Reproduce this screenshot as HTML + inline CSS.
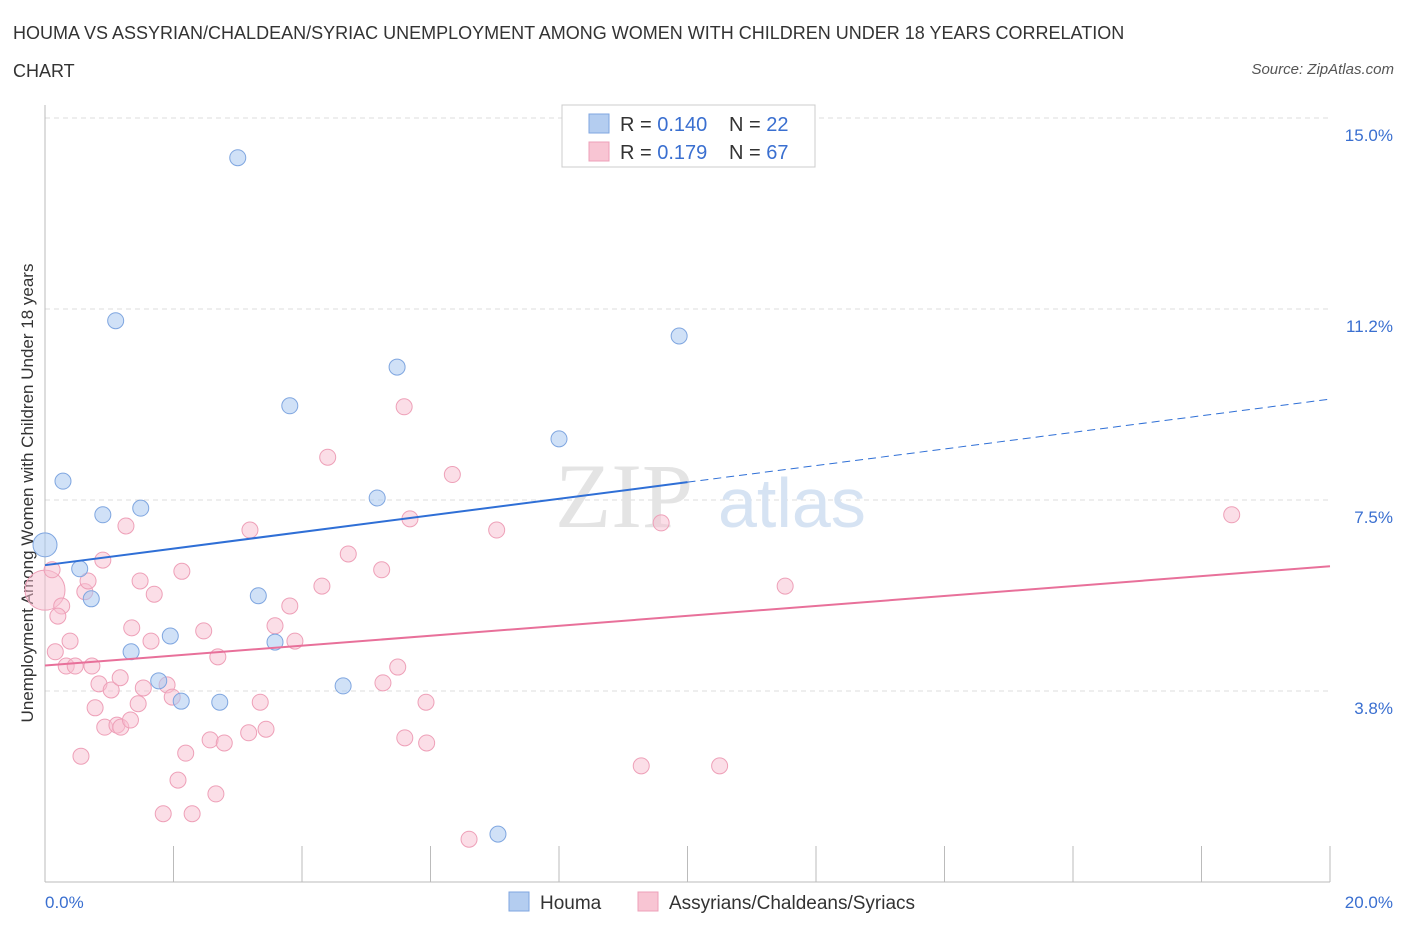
<!DOCTYPE html>
<html><head><meta charset="utf-8"><style>
body{margin:0;background:#fff;font-family:"Liberation Sans",sans-serif;}
#wrap{position:relative;width:1406px;height:930px;overflow:hidden;}
.t{position:absolute;white-space:nowrap;}
</style></head><body>
<div id="wrap">
<div class="t" style="left:13px;top:14px;font-size:18px;color:#333;line-height:38px;">HOUMA VS ASSYRIAN/CHALDEAN/SYRIAC UNEMPLOYMENT AMONG WOMEN WITH CHILDREN UNDER 18 YEARS CORRELATION<br>CHART</div>
<div class="t" style="right:12px;top:61px;font-size:15px;color:#555;font-style:italic;">Source: ZipAtlas.com</div>
<svg id="svg" width="1406" height="930" style="position:absolute;left:0;top:0"></svg>
</div>
<script>
const houmaX=[0,0.28,1.10,0.90,1.49,0.54,0.72,1.34,1.95,1.77,2.12,2.72,3.00,3.81,3.32,3.58,4.64,5.17,5.48,7.05,8.00,9.87];
const houmaY=[6.62,7.87,11.02,7.21,7.34,6.15,5.56,4.52,4.83,3.95,3.55,3.53,14.22,9.35,5.62,4.71,3.85,7.54,10.11,0.94,8.70,10.72];
const assyX=[0,0.11,0.16,0.26,0.20,0.39,0.33,0.47,0.56,0.62,0.67,0.73,0.78,0.84,0.90,0.93,1.03,1.12,1.17,1.18,1.26,1.33,1.35,1.45,1.48,1.53,1.65,1.70,1.84,1.90,1.98,2.07,2.13,2.19,2.29,2.47,2.57,2.66,2.69,2.79,3.19,3.17,3.35,3.44,3.58,3.81,3.89,4.31,4.40,4.72,5.24,5.26,5.49,5.59,5.68,5.60,5.93,5.94,6.34,6.60,7.03,9.28,9.59,10.50,11.52,18.47];
const assyY=[5.73,6.13,4.52,5.42,5.22,4.73,4.24,4.24,2.47,5.70,5.91,4.24,3.42,3.89,6.32,3.04,3.77,3.08,4.01,3.04,6.99,3.18,4.99,3.50,5.91,3.81,4.73,5.65,1.34,3.87,3.63,2.00,6.10,2.53,1.34,4.93,2.79,1.73,4.42,2.73,6.91,2.93,3.53,3.00,5.03,5.42,4.73,5.81,8.34,6.44,6.13,3.91,4.22,9.33,7.13,2.83,3.53,2.73,8.00,0.84,6.91,2.28,7.05,2.28,5.81,7.21];
const yTicks=[3.75,7.5,11.25,15.0];
const yTickLabels=["3.8%","7.5%","11.2%","15.0%"];
const xTickLabels=["0.0%","20.0%"];
const blueLine=[6.22,0.163];
const pinkLine=[4.25,0.0975];
const X=v=>45+v/20*1285;
const Yt=v=>882-v/15*764;
const svg=document.getElementById('svg');const NS='http://www.w3.org/2000/svg';
function mk(tag,a,name,p){const e=document.createElementNS(NS,tag);for(const k in a)e.setAttribute(k,a[k]);


(p||svg).appendChild(e);return e;}
yTicks.forEach((v,i)=>{mk('line',{x1:45,x2:1330,y1:Yt(v),y2:Yt(v),stroke:'#ddd','stroke-dasharray':'5,4'},'gridline');
const t=mk('text',{x:1393,y:Yt(v)+23,'text-anchor':'end','font-size':17,fill:'#3a6fd0'},'y-tick-label');t.textContent=yTickLabels[i];});
mk('line',{x1:45,x2:45,y1:105,y2:882,stroke:'#bbb'},'y-axis');
mk('line',{x1:45,x2:1330,y1:882,y2:882,stroke:'#bbb'},'x-axis');
for(let i=0;i<=10;i++)mk('line',{x1:X(i*2),x2:X(i*2),y1:846,y2:882,stroke:'#bbb'},'x-tick');
let t=mk('text',{x:45,y:908,'font-size':17,fill:'#3a6fd0'},'x-tick-label');t.textContent=xTickLabels[0];
t=mk('text',{x:1393,y:908,'font-size':17,fill:'#3a6fd0','text-anchor':'end'},'x-tick-label');t.textContent=xTickLabels[1];
t=mk('text',{x:0,y:0,'font-size':17,fill:'#333','text-anchor':'middle',transform:'translate(33,493) rotate(-90)'},'y-axis-title');t.textContent='Unemployment Among Women with Children Under 18 years';
t=mk('text',{x:555,y:527,'font-size':92,fill:'#e4e4e4','font-family':'Liberation Serif'},'watermark-zip');t.textContent='ZIP';
t=mk('text',{x:718,y:527,'font-size':70,fill:'#d6e3f3'},'watermark-atlas');t.textContent='atlas';
assyX.forEach((v,i)=>mk('circle',{cx:X(v),cy:Yt(assyY[i]),r:i==0?20:8,fill:'rgba(248,190,208,0.5)',stroke:'#eea0b8','stroke-width':1},'assyrian-point'));
houmaX.forEach((v,i)=>mk('circle',{cx:X(v),cy:Yt(houmaY[i]),r:i==0?12:8,fill:'rgba(170,200,240,0.55)',stroke:'#7fa6e0','stroke-width':1},'houma-point'));
mk('line',{x1:X(0),y1:Yt(blueLine[0]),x2:X(10),y2:Yt(blueLine[0]+blueLine[1]*10),stroke:'#2f6fd6','stroke-width':2},'houma-trend');
mk('line',{x1:X(10),y1:Yt(blueLine[0]+blueLine[1]*10),x2:X(20),y2:Yt(blueLine[0]+blueLine[1]*20),stroke:'#2f6fd6','stroke-width':1,'stroke-dasharray':'8,5'},'houma-trend-extension');
mk('line',{x1:X(0),y1:Yt(pinkLine[0]),x2:X(20),y2:Yt(pinkLine[0]+pinkLine[1]*20),stroke:'#e8709a','stroke-width':2},'assyrian-trend');
mk('rect',{x:562,y:105,width:253,height:62,fill:'#fff',stroke:'#ccc'},'stats-legend');
mk('rect',{x:589,y:114,width:20,height:19,fill:'#b4cdf0',stroke:'#7fa6e0'},'legend-swatch-houma');
mk('rect',{x:589,y:142,width:20,height:19,fill:'#f8c5d3',stroke:'#eea0b8'},'legend-swatch-assyrian');
[[131,'0.140','22'],[159,'0.179','67']].forEach(r=>{
let a=mk('text',{x:620,y:r[0],'font-size':20,fill:'#333'},'legend-r-label');a.innerHTML='R = <tspan fill="#3a6fd0">'+r[1]+'</tspan>';
a=mk('text',{x:729,y:r[0],'font-size':20,fill:'#333'},'legend-n-label');a.innerHTML='N = <tspan fill="#3a6fd0">'+r[2]+'</tspan>';});
mk('rect',{x:509,y:892,width:20,height:19,fill:'#b4cdf0',stroke:'#7fa6e0'},'bottom-legend-swatch-houma');
t=mk('text',{x:540,y:909,'font-size':19,fill:'#333'},'bottom-legend-houma');t.textContent='Houma';
mk('rect',{x:638,y:892,width:20,height:19,fill:'#f8c5d3',stroke:'#eea0b8'},'bottom-legend-swatch-assyrian');
t=mk('text',{x:669,y:909,'font-size':19,fill:'#333'},'bottom-legend-assyrian');t.textContent='Assyrians/Chaldeans/Syriacs';
</script>
</body></html>
